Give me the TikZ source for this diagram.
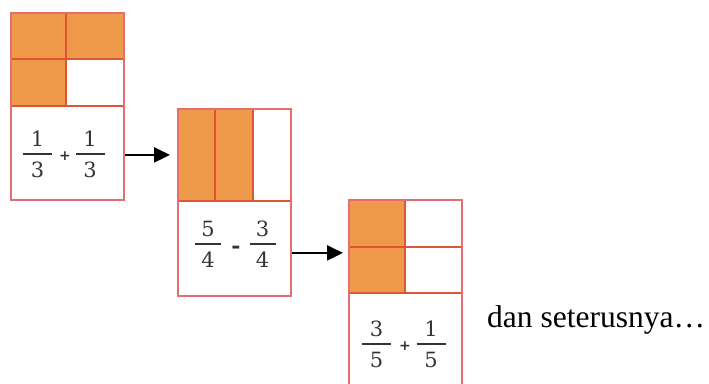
\documentclass[tikz,border=0pt]{standalone}
\usepackage{fontspec}
\setmainfont{Liberation Serif}
\newfontfamily\digitfont{DejaVu Serif}
\usetikzlibrary{arrows.meta,positioning}
\definecolor{fOrange}{HTML}{EF9A4A}
\definecolor{fRed}{HTML}{DD5535}
\definecolor{fEdge}{HTML}{E37070}
\definecolor{fInk}{HTML}{333333}

\begin{document}
\begin{tikzpicture}[x=1pt,y=-1pt,
  frame/.style={draw=fEdge, line width=1.8pt, minimum width=113pt, anchor=north west, inner sep=0pt},
  grid/.style={draw=fRed, line width=1.5pt},
  shade/.style={fill=fOrange},
  digit/.style={font=\digitfont\fontsize{21}{24}\selectfont, text=fInk, inner sep=0pt},
  op/.style={font=\digitfont\fontsize{14}{16}\selectfont\bfseries, text=fInk, inner sep=0pt},
  bar/.style={fInk, line width=1.3pt},
  arr/.style={line width=2.2pt, -{Triangle[length=16pt,width=15pt]}}]
  \useasboundingbox (0,0) rectangle (709,383);
  \clip (0,0) rectangle (709,383);

  % card 1
  \fill[shade] (10,12) rectangle (123,59) (10,59) rectangle (66,106);
  \draw[grid] (10,59) -- (123,59) (66,12) -- (66,106) (10,106) -- (123,106);
  \node[frame, minimum height=187pt] (c1) at (10,12) {};

  % card 2
  \fill[shade] (177,108) rectangle (253,201);
  \draw[grid] (215,108) -- (215,201) (253,108) -- (253,201) (177,201) -- (290,201);
  \node[frame, minimum height=187pt] (c2) at (177,108) {};

  % card 3
  \fill[shade] (348,199) rectangle (405,293);
  \draw[grid] (348,247) -- (461,247) (405,199) -- (405,293) (348,293) -- (461,293);
  \node[frame, minimum height=196pt] (c3) at (348,199) {};

  % fractions
  \foreach \x/\y/\n/\d/\w [count=\i] in {37.5/154/1/3/14.5, 90/154/1/3/14.5,
      208/244/5/4/13, 262.5/244/3/4/13, 376.5/344/3/5/14.5, 431/344/1/5/14.5}{
    \node[digit] (num\i) at (\x,\y-15) {\n};
    \node[digit] (den\i) at (\x,\y+16) {\d};
    \draw[bar] (\x-\w,\y) -- (\x+\w,\y);
  }
  \node[op] (op1) at (65,156) {+};
  \node[op, font=\digitfont\fontsize{22}{24}\selectfont\bfseries] (op2) at (236,250) {-};
  \node[op] (op3) at (405,346) {+};

  % arrows
  \coordinate (s1) at ([yshift=-48.5pt]c1.east);
  \coordinate (s2) at ([yshift=-50.5pt]c2.east);
  \draw[arr, shorten >=7pt] (s1) -- (s1 -| c2.west);
  \draw[arr, shorten >=5pt] (s2) -- (s2 -| c3.west);

  \node[anchor=base west, inner sep=0pt, font=\fontsize{31.5}{36}\selectfont] (etc) at (487,327) {dan seterusnya…};
\end{tikzpicture}
\end{document}
